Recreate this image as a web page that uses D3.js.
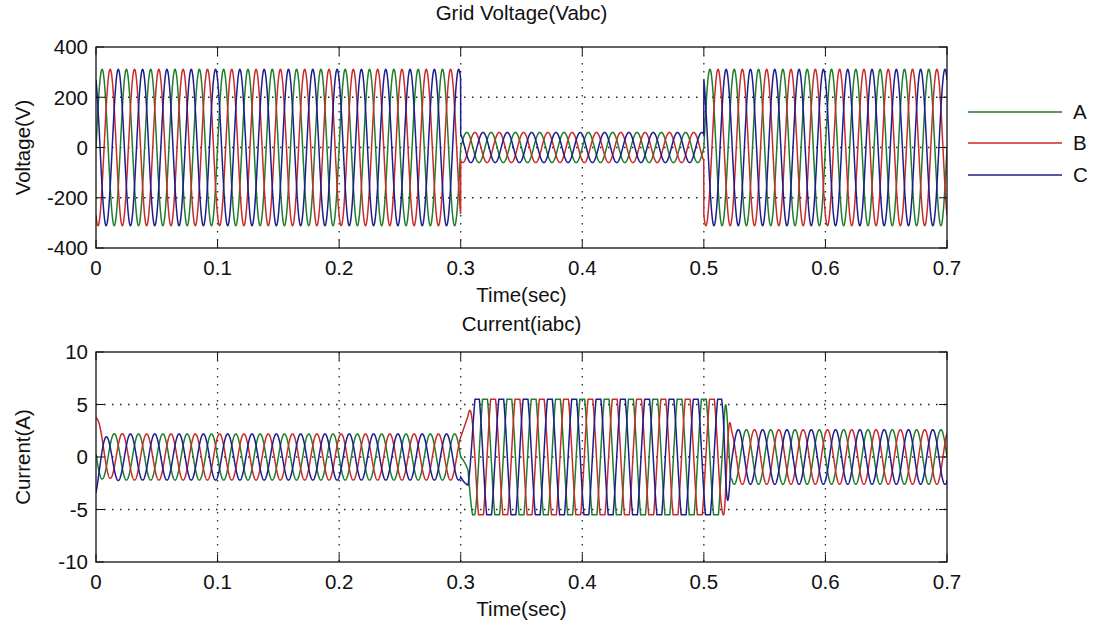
<!DOCTYPE html>
<html>
<head>
<meta charset="utf-8">
<script src="https://cdn.jsdelivr.net/npm/d3@7"></script>
<style>
  body { margin: 0; background: #fff; }
  text { font-family: "Liberation Sans", Arial, sans-serif; font-size: 20.5px; fill: #111; }
</style>
</head>
<body>
<svg id="chart" width="1094" height="621"></svg>
<script>
// phases and colours
var phases = ["A", "B", "C"];
var phaseColors = ["#1f7d2c", "#c92b2b", "#1d1d8e"];
var phaseShiftDeg = [0, -120, 120];
var freq = 50;

// ticks
var xTicks = [0, 0.1, 0.2, 0.3, 0.4, 0.5, 0.6, 0.7];
var vTicks = [400, 200, 0, -200, -400];
var iTicks = [10, 5, 0, -5, -10];

// voltage envelope (sag 0.3 - 0.5 s)
var vEnvT = [0, 0.3, 0.3, 0.5, 0.5, 0.7];
var vEnvAmp = [311, 311, 60, 60, 311, 311];

// current envelope, phase angle and limit
var iEnvT = [0, 0.3, 0.306, 0.313, 0.512, 0.518, 0.523, 0.7];
var iEnvAmp = [2.2, 2.2, 4, 6.8, 6.8, 5, 2.6, 2.6];
var iPhaseT = [0, 0.3, 0.306, 0.516, 0.522, 0.7];
var iPhaseDeg = [180, 180, 90, 90, 180, 180];
var iClip = 5.5;
// start-up transient
var iStartOffset = [0.3, 1.8, -1.5];
var iStartDecay = 0.005;

var svg = d3.select("#chart");

var x = d3.scaleLinear().domain([0, 0.7]).range([96, 947]);
var yV = d3.scaleLinear().domain([-400, 400]).range([248, 47]);
var yI = d3.scaleLinear().domain([-10, 10]).range([562, 352]);

function lookup(ts, vs, t) {
  var i = d3.bisectRight(ts, t) - 1;
  if (i < 0) i = 0;
  if (i >= ts.length - 1) return vs[vs.length - 1];
  var f = (t - ts[i]) / (ts[i + 1] - ts[i]);
  return vs[i] + (vs[i + 1] - vs[i]) * f;
}

// sample times
var dt = 0.0001;
var times = d3.range(0, 0.7 + dt / 2, dt);

var voltage = phases.map((p, k) =>
  times.map((t) => {
    var a = lookup(vEnvT, vEnvAmp, t);
    return [t, a * Math.sin(2 * Math.PI * freq * t + (phaseShiftDeg[k] * Math.PI) / 180)];
  })
);

var current = phases.map((p, k) =>
  times.map((t) => {
    var a = lookup(iEnvT, iEnvAmp, t);
    var ph = lookup(iPhaseT, iPhaseDeg, t);
    var v = a * Math.sin(2 * Math.PI * freq * t + ((phaseShiftDeg[k] + ph) * Math.PI) / 180);
    v += iStartOffset[k] * Math.exp(-t / iStartDecay);
    return [t, Math.max(-iClip, Math.min(iClip, v))];
  })
);

function drawAxes(y, ticks, series, title, ylabel, titleY, tickLabelY, xlabelY, id) {
  var top = y.range()[1], bottom = y.range()[0];
  var left = x.range()[0], right = x.range()[1];
  var g = svg.append("g");

  g.append("rect").attr("x", left).attr("y", top)
    .attr("width", right - left).attr("height", bottom - top).attr("fill", "#fff");

  // dotted grid
  xTicks.slice(1, -1).forEach((t) => {
    g.append("line").attr("x1", x(t)).attr("x2", x(t)).attr("y1", top).attr("y2", bottom)
      .attr("stroke", "#222").attr("stroke-width", 1.3).attr("stroke-dasharray", "1.5,6.5");
  });
  ticks.slice(1, -1).forEach((t) => {
    g.append("line").attr("x1", left).attr("x2", right).attr("y1", y(t)).attr("y2", y(t))
      .attr("stroke", "#222").attr("stroke-width", 1.3).attr("stroke-dasharray", "1.5,6.5");
  });

  svg.append("clipPath").attr("id", id).append("rect")
    .attr("x", left).attr("y", top).attr("width", right - left).attr("height", bottom - top);

  var line = d3.line().x((d) => x(d[0])).y((d) => y(d[1]));
  series.forEach((s, k) => {
    g.append("path").datum(s).attr("d", line).attr("clip-path", `url(#${id})`)
      .attr("fill", "none").attr("stroke", phaseColors[k]).attr("stroke-width", 1.5);
  });

  // inward ticks
  xTicks.forEach((t) => {
    g.append("line").attr("x1", x(t)).attr("x2", x(t)).attr("y1", bottom).attr("y2", bottom - 8).attr("stroke", "#111");
    g.append("line").attr("x1", x(t)).attr("x2", x(t)).attr("y1", top).attr("y2", top + 8).attr("stroke", "#111");
    g.append("text").attr("x", x(t)).attr("y", tickLabelY).attr("text-anchor", "middle").text(t);
  });
  ticks.forEach((t) => {
    g.append("line").attr("x1", left).attr("x2", left + 8).attr("y1", y(t)).attr("y2", y(t)).attr("stroke", "#111");
    g.append("line").attr("x1", right).attr("x2", right - 8).attr("y1", y(t)).attr("y2", y(t)).attr("stroke", "#111");
    g.append("text").attr("x", 88).attr("y", y(t)).attr("dy", "0.36em").attr("text-anchor", "end").text(t);
  });

  g.append("rect").attr("x", left).attr("y", top)
    .attr("width", right - left).attr("height", bottom - top)
    .attr("fill", "none").attr("stroke", "#111").attr("stroke-width", 1.3);

  g.append("text").attr("x", (left + right) / 2).attr("y", titleY).attr("text-anchor", "middle").text(title);
  g.append("text").attr("x", (left + right) / 2).attr("y", xlabelY).attr("text-anchor", "middle").text("Time(sec)");
  g.append("text").attr("transform", `translate(30,${(top + bottom) / 2}) rotate(-90)`)
    .attr("text-anchor", "middle").text(ylabel);
}

drawAxes(yV, vTicks, voltage, "Grid Voltage(Vabc)", "Voltage(V)", 20, 275, 302, "clipV");
drawAxes(yI, iTicks, current, "Current(iabc)", "Current(A)", 331, 589, 616, "clipI");

// legend
var legendY = [112, 143, 175];
phases.forEach((p, k) => {
  svg.append("line").attr("x1", 968).attr("x2", 1062).attr("y1", legendY[k]).attr("y2", legendY[k])
    .attr("stroke", phaseColors[k]).attr("stroke-width", 1.5);
  svg.append("text").attr("x", 1073).attr("y", legendY[k]).attr("dy", "0.36em").text(p);
});
</script>
</body>
</html>
